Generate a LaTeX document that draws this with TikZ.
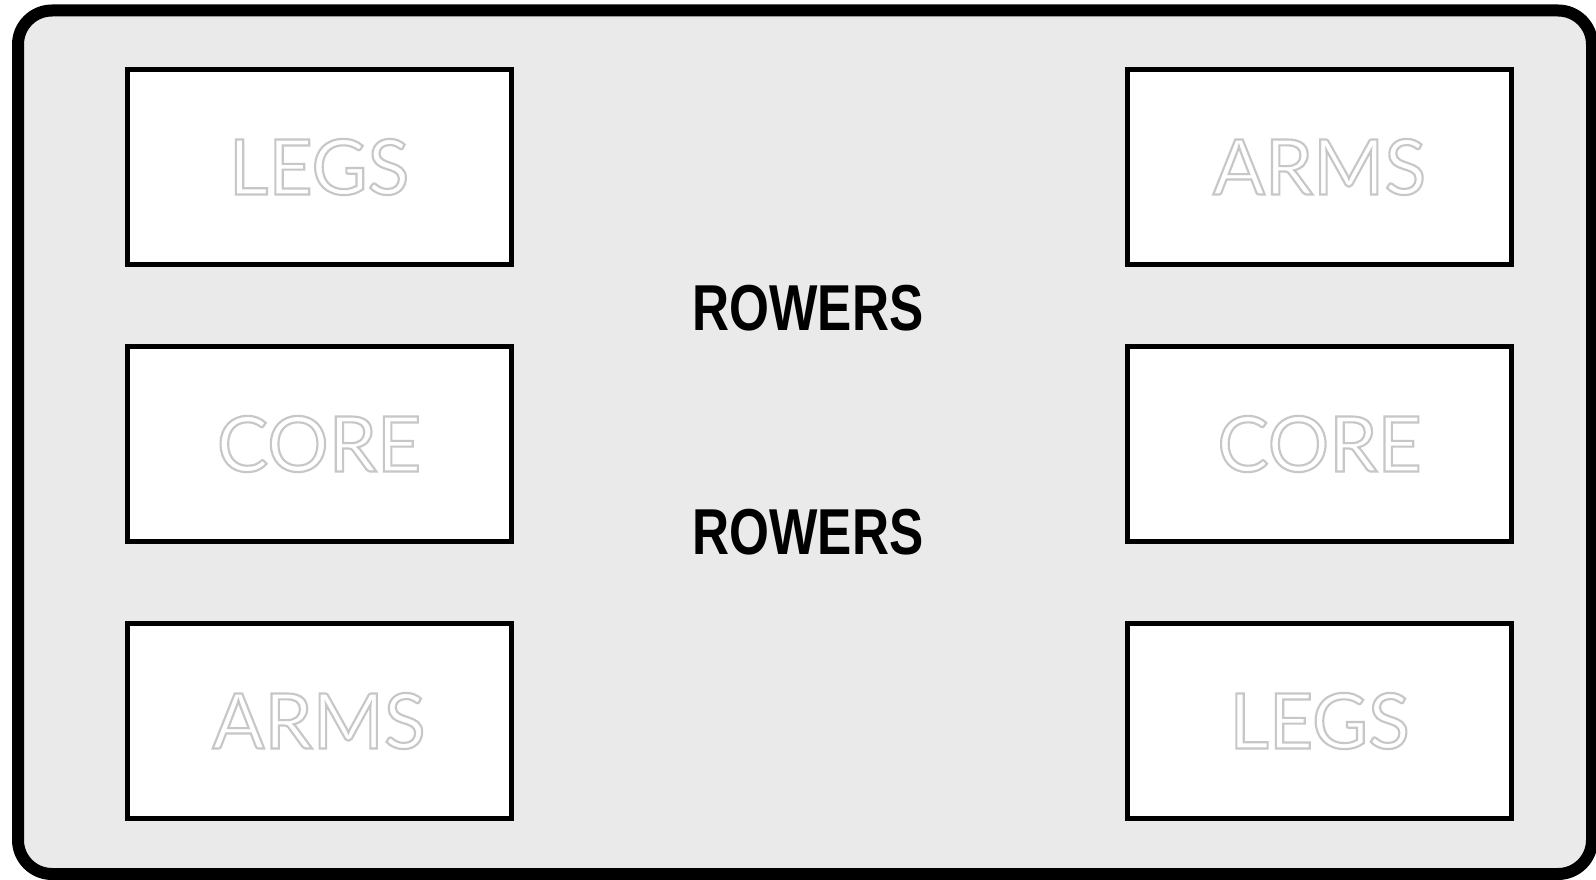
\documentclass[tikz,border=0pt]{standalone}
\usepackage{fontspec}
\newfontfamily\gillfont{Lato}
\newfontfamily\rowfont{Liberation Sans}
\definecolor{panelgray}{RGB}{234,234,234}
% white letters with a soft grey rim (fill, then stroke)
\newcommand{\rimtext}[1]{\textcolor{white}{\special{pdf:code q 2 Tr 0.78 G 1.6 w}#1\special{pdf:code Q}}}

\tikzset{every picture/.style={line width=0.75pt}}
\tikzset{
  part/.style={draw=black, fill=white, line width=3.75pt, inner sep=0pt,
    minimum width=288pt, minimum height=146.25pt,
    font=\gillfont\fontsize{57.6}{60}\selectfont},
  rowlabel/.style={inner sep=0pt, font=\rowfont\bfseries\fontsize{48.7}{50}\selectfont}
}

\begin{document}
\begin{tikzpicture}[x=0.75pt,y=0.75pt,yscale=-1,xscale=1]
\path[use as bounding box] (0,0) rectangle (1596,880);
\clip (0,0) rectangle (1596,880);

%Rounded Rect
\draw [line width=9pt, rounded corners=25.5pt, fill=panelgray] (18,10.5) rectangle (1592,874);

% left column
\node [part] (legsL) at (319,167) {\rimtext{LEGS}};
\node [part] (coreL) at (319,444) {\rimtext{CORE}};
\node [part] (armsL) at (319,721) {\rimtext{ARMS}};
% right column
\node [part] (armsR) at (1319.5,167) {\rimtext{ARMS}};
\node [part] (coreR) at (1319.5,444) {\rimtext{CORE}};
\node [part] (legsR) at (1319.5,721) {\rimtext{LEGS}};

% Text Node
\node [rowlabel] (rowersA) at (808,308.5) {\scalebox{0.79}[1]{ROWERS}};
% Text Node
\node [rowlabel] (rowersB) at (808,532) {\scalebox{0.79}[1]{ROWERS}};

\end{tikzpicture}
\end{document}
